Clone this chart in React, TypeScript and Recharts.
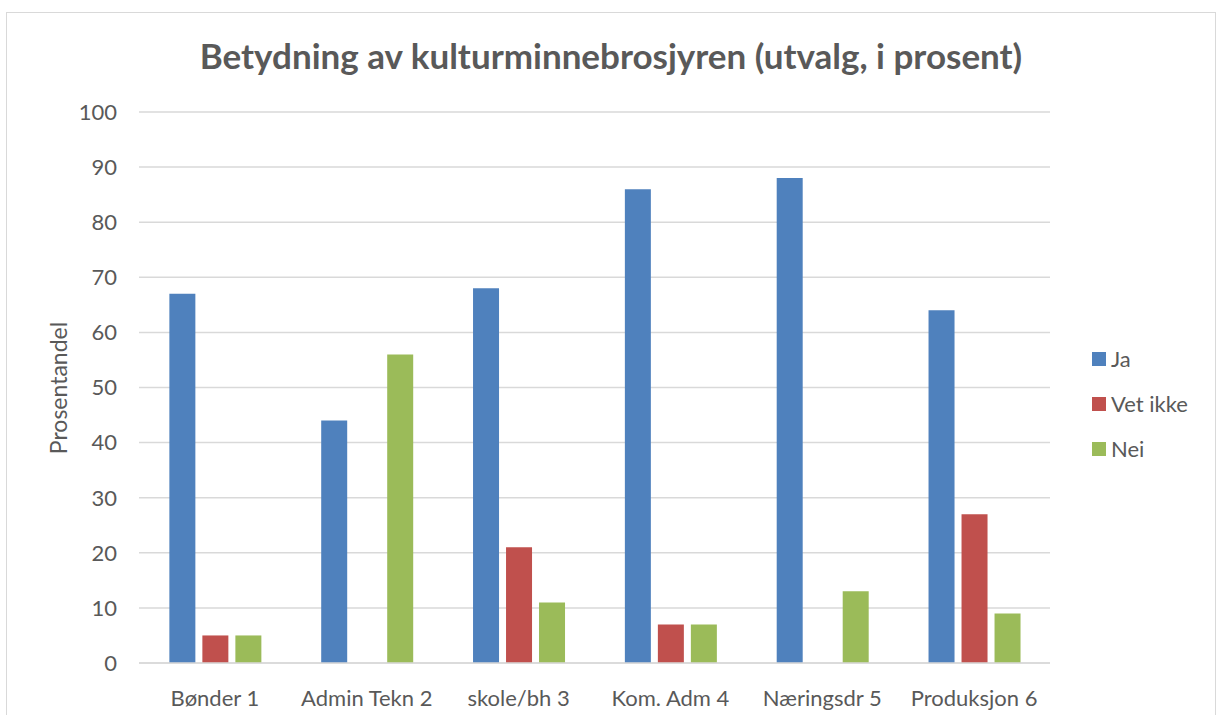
import { BarChart, Bar, XAxis, YAxis, CartesianGrid, Legend } from "recharts";

const categories = ["Bønder 1", "Admin Tekn 2", "skole/bh 3", "Kom. Adm 4", "Næringsdr 5", "Produksjon 6"];
const ja = [67, 44, 68, 86, 88, 64];
const vetIkke = [5, 0, 21, 7, 0, 27];
const nei = [5, 56, 11, 7, 13, 9];
const yTicks = [0, 10, 20, 30, 40, 50, 60, 70, 80, 90, 100];

const series = [
  { key: "ja", name: "Ja", color: "#4F81BD" },
  { key: "vetIkke", name: "Vet ikke", color: "#C0504D" },
  { key: "nei", name: "Nei", color: "#9BBB59" },
];

const data = categories.map((name, i) => ({ name, ja: ja[i], vetIkke: vetIkke[i], nei: nei[i] }));

const FONT = "Lato, 'Open Sans', sans-serif";
const TEXT = "#595959";

const LegendBox = () => (
  <div style={{ fontFamily: FONT, fontSize: 22, color: TEXT }}>
    {series.map((s) => (
      <div key={s.key} style={{ display: "flex", alignItems: "center", height: 45 }}>
        <span style={{ width: 14, height: 14, background: s.color, marginRight: 5, display: "inline-block" }} />
        <span>{s.name}</span>
      </div>
    ))}
  </div>
);

const App = () => {
  return (
    <div
      style={{
        position: "absolute",
        left: 6,
        top: 12,
        width: 1210,
        height: 720,
        border: "1px solid #d9d9d9",
        background: "#fff",
        boxSizing: "border-box",
        fontFamily: FONT,
      }}
    >
      <div
        style={{
          position: "absolute",
          top: 21,
          left: 0,
          width: "100%",
          textAlign: "center",
          fontSize: 35,
          fontWeight: 700,
          color: TEXT,
        }}
      >
        Betydning av kulturminnebrosjyren (utvalg, i prosent)
      </div>
      <div
        style={{
          position: "absolute",
          left: 51,
          top: 375,
          transform: "translate(-50%, -50%) rotate(-90deg)",
          fontSize: 23,
          color: TEXT,
          whiteSpace: "nowrap",
        }}
      >
        Prosentandel
      </div>
      <BarChart
        width={1208}
        height={703}
        data={data}
        margin={{ top: 99, right: 165, left: 0, bottom: 0 }}
        barCategoryGap="20%"
        barGap={7}
        style={{ position: "absolute", left: 0, top: 0 }}
      >
        <CartesianGrid vertical={false} stroke="#d9d9d9" strokeWidth={1.5} />
        <XAxis
          dataKey="name"
          axisLine={{ stroke: "#d9d9d9", strokeWidth: 1.5 }}
          tickLine={false}
          tickMargin={21}
          height={53}
          tick={{ fill: TEXT, fontSize: 22, fontFamily: FONT }}
        />
        <YAxis
          domain={[0, 100]}
          ticks={yTicks}
          axisLine={false}
          tickLine={false}
          tickSize={0}
          tickMargin={22}
          width={132}
          tick={{ fill: TEXT, fontSize: 22, fontFamily: FONT }}
        />
        <Legend
          layout="vertical"
          align="center"
          verticalAlign="middle"
          content={<LegendBox />}
          wrapperStyle={{ position: "absolute", left: 1085, top: 323, width: 120 }}
        />
        {series.map((s) => (
          <Bar key={s.key} dataKey={s.key} name={s.name} fill={s.color} isAnimationActive={false} />
        ))}
      </BarChart>
    </div>
  );
};

export default App;
